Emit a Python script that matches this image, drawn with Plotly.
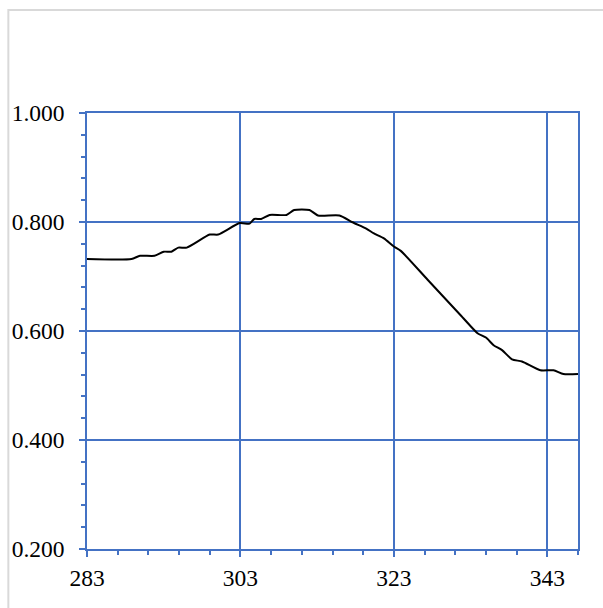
import plotly.graph_objects as go

# Data
x_vals = [283.0, 288.8, 289.9, 291.8, 293.0, 294.0, 294.9, 296.0, 299.0, 300.1,
          302.9, 304.2, 304.8, 305.7, 306.8, 309.0, 310.0, 312.0, 313.1, 315.9,
          317.6, 319.4, 320.4, 321.7, 323.0, 323.9, 327.4, 331.7, 333.9, 335.0,
          336.0, 337.1, 338.4, 339.7, 342.1, 343.8, 345.1, 347.0]
y_vals = [0.732, 0.732, 0.738, 0.738, 0.7455, 0.7455, 0.753, 0.753, 0.777, 0.777,
          0.798, 0.797, 0.8055, 0.8055, 0.813, 0.813, 0.822, 0.822, 0.812, 0.812,
          0.7995, 0.788, 0.779, 0.770, 0.755, 0.747, 0.694, 0.629, 0.596, 0.588,
          0.574, 0.565, 0.548, 0.544, 0.528, 0.528, 0.521, 0.521]

x_range = [283, 347]
y_range = [0.2, 1.0]

BLUE = "#4472C4"
FONT = dict(family="Liberation Serif, Times New Roman, serif", size=23.5, color="#000000")

fig = go.Figure()
fig.add_trace(go.Scatter(
    x=x_vals, y=y_vals, mode="lines",
    line=dict(color="#000000", width=2, shape="spline", smoothing=0.6),
    hoverinfo="skip", showlegend=False,
))

axis_common = dict(
    showline=True, linecolor=BLUE, linewidth=1.6, mirror=True,
    showgrid=True, gridcolor=BLUE, gridwidth=1.6,
    zeroline=False,
    ticks="outside", ticklen=6, tickwidth=1.6, tickcolor=BLUE,
    tickfont=FONT,
)

fig.update_xaxes(
    range=x_range, tick0=283, dtick=20,
    minor=dict(tick0=283, dtick=4, ticks="outside", ticklen=4, tickwidth=1.6,
               tickcolor=BLUE, showgrid=False),
    ticklabelstandoff=1,
    **axis_common,
)
fig.update_yaxes(
    range=y_range, tick0=0.2, dtick=0.2, tickformat=".3f",
    minor=dict(tick0=0.2, dtick=0.04, ticks="outside", ticklen=4, tickwidth=1.6,
               tickcolor=BLUE, showgrid=False),
    ticklabelstandoff=10,
    **axis_common,
)

fig.add_shape(type="rect", xref="paper", yref="paper",
              x0=-0.1602, x1=2.0, y0=-2.0, y1=1.2362,
              line=dict(color="#d9d9d9", width=2), fillcolor="rgba(0,0,0,0)",
              layer="below")

fig.update_layout(
    width=603, height=608,
    margin=dict(l=85, r=25, t=113, b=59),
    paper_bgcolor="#ffffff", plot_bgcolor="#ffffff",
    font=FONT,
    showlegend=False,
)

fig.write_html("out.html",
               config={"displayModeBar": False},
               post_script="document.body.style.margin='0';document.body.style.overflow='hidden';")
